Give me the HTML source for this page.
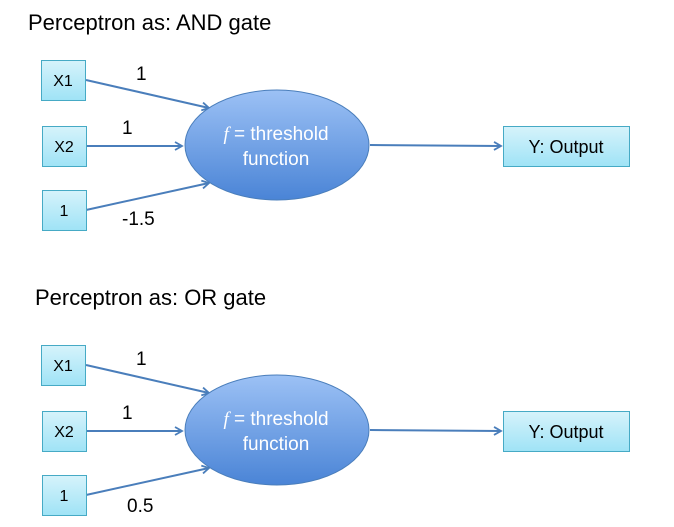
<!DOCTYPE html>
<html><head><meta charset="utf-8"><style>
body{margin:0;background:#fff;}
svg{display:block;font-family:"Liberation Sans",sans-serif;}
</style></head><body>
<svg width="674" height="527" viewBox="0 0 674 527">
<defs>
<linearGradient id="bx" x1="0" y1="0" x2="0" y2="1"><stop offset="0" stop-color="#d6f3fb"/><stop offset="1" stop-color="#9fe3f6"/></linearGradient>
<linearGradient id="el" x1="0" y1="0" x2="0" y2="1"><stop offset="0" stop-color="#9cc1f5"/><stop offset="1" stop-color="#4a84d6"/></linearGradient>
<marker id="ar" markerWidth="10" markerHeight="10" refX="8" refY="5" orient="auto" markerUnits="userSpaceOnUse"><path d="M1,1 L8,5 L1,9" fill="none" stroke="#4a7ebb" stroke-width="1.8"/></marker>
<g id="d">
<g stroke="#4a7ebb" stroke-width="2" fill="none" marker-end="url(#ar)">
<line x1="86" y1="80" x2="209" y2="108"/>
<line x1="86" y1="146" x2="182" y2="146"/>
<line x1="86" y1="210" x2="209" y2="183"/>
<line x1="370" y1="145" x2="501" y2="146"/>
</g>
<ellipse cx="277" cy="145" rx="92" ry="55" fill="url(#el)" stroke="#4a7ebb" stroke-width="1"/>
<g fill="url(#bx)" stroke="#46aac5" stroke-width="1">
<rect x="41.5" y="60.5" width="44" height="40"/>
<rect x="42.5" y="126.5" width="44" height="40"/>
<rect x="42.5" y="190.5" width="44" height="40"/>
<rect x="503.5" y="126.5" width="126" height="40"/>
</g>
<g font-size="16" fill="#000" text-anchor="middle">
<text x="63" y="86">X1</text><text x="64" y="152">X2</text><text x="64" y="216">1</text>
<text x="566" y="153" font-size="18">Y: Output</text>
</g>
<g font-size="19" fill="#fff" text-anchor="middle">
<text x="276" y="140"><tspan font-style="italic" font-family="Liberation Serif">f</tspan> = threshold</text>
<text x="276" y="165">function</text>
</g>
<g font-size="19" fill="#000"><text x="136" y="80">1</text><text x="122" y="134">1</text></g>
</g>
</defs>
<text x="28" y="30" font-size="22">Perceptron as: AND gate</text>
<text x="35" y="305" font-size="22">Perceptron as: OR gate</text>
<use href="#d"/>
<text x="122" y="225" font-size="19">-1.5</text>
<g transform="translate(0,285)"><use href="#d"/></g>
<text x="127" y="512" font-size="19">0.5</text>
</svg>
</body></html>
